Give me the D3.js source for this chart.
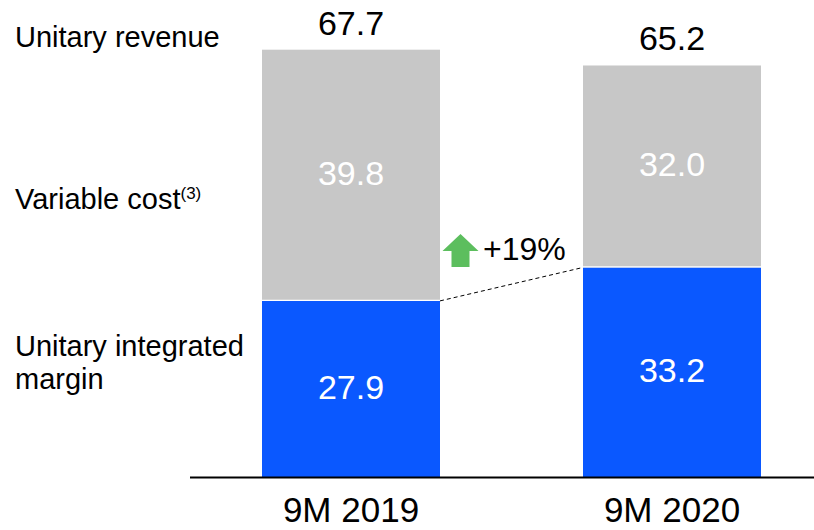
<!DOCTYPE html>
<html>
<head>
<meta charset="utf-8">
<script src="https://cdn.jsdelivr.net/npm/d3@7"></script>
<style>
  html, body { margin: 0; padding: 0; background: #fff; }
  svg { display: block; font-family: "Liberation Sans", Arial, sans-serif; }
</style>
</head>
<body>
<svg id="chart" width="814" height="530"></svg>
<script>
const categories = ["9M 2019", "9M 2020"];
const marginValues = [27.9, 33.2];
const costValues = [39.8, 32.0];
const revenueValues = [67.7, 65.2];
const seriesLabels = ["Unitary revenue", "Variable cost", "Unitary integrated", "margin"];
const growthLabel = "+19%";

const svg = d3.select("#chart");
const W = 814, H = 530;
const baseY = 477, topY = 49.7;

const x = d3.scaleBand().domain(categories).range([190.5, 832.5])
  .paddingInner(0.4455).paddingOuter(0.22275);
const y = d3.scaleLinear().domain([0, revenueValues[0]]).range([baseY, topY]);

const blue = "#0A58FF", grey = "#C7C7C7", green = "#5CBE5E";

const data = categories.map((c, i) => ({ c, m: marginValues[i], v: costValues[i], r: revenueValues[i] }));

// grey (variable cost) segments
svg.selectAll("rect.cost").data(data).enter().append("rect")
  .attr("class", "cost")
  .attr("x", d => x(d.c)).attr("width", x.bandwidth())
  .attr("y", d => y(d.r)).attr("height", d => y(d.m) - y(d.r))
  .attr("fill", grey);

// blue (margin) segments
svg.selectAll("rect.margin").data(data).enter().append("rect")
  .attr("class", "margin")
  .attr("x", d => x(d.c)).attr("width", x.bandwidth())
  .attr("y", d => y(d.m)).attr("height", d => y(0) - y(d.m))
  .attr("fill", blue);

// white separator
svg.selectAll("line.sep").data(data).enter().append("line")
  .attr("x1", d => x(d.c)).attr("x2", d => x(d.c) + x.bandwidth())
  .attr("y1", d => y(d.m) - 0.5).attr("y2", d => y(d.m) - 0.5)
  .attr("stroke", "#fff").attr("stroke-width", 1.2);

// baseline axis
svg.append("line").attr("x1", 190).attr("x2", W).attr("y1", baseY + 0.5).attr("y2", baseY + 0.5)
  .attr("stroke", "#000").attr("stroke-width", 2);

// dashed connector
svg.append("line")
  .attr("x1", x(categories[0]) + x.bandwidth()).attr("y1", y(marginValues[0]))
  .attr("x2", x(categories[1])).attr("y2", y(marginValues[1]))
  .attr("stroke", "#000").attr("stroke-width", 1).attr("stroke-dasharray", "4,3");

const nf = 34;
// totals
svg.selectAll("text.total").data(data).enter().append("text")
  .attr("x", d => x(d.c) + x.bandwidth() / 2).attr("y", d => y(d.r) - 15)
  .attr("text-anchor", "middle").attr("font-size", nf).attr("fill", "#000")
  .text(d => d.r.toFixed(1));

// cost labels
svg.selectAll("text.costl").data(data).enter().append("text")
  .attr("x", d => x(d.c) + x.bandwidth() / 2).attr("y", d => (y(d.r) + y(d.m)) / 2 + 10)
  .attr("text-anchor", "middle").attr("font-size", nf).attr("fill", "#fff")
  .text(d => d.v.toFixed(1));

// margin labels
svg.selectAll("text.marginl").data(data).enter().append("text")
  .attr("x", d => x(d.c) + x.bandwidth() / 2).attr("y", d => (y(d.m) + y(0)) / 2 + 10)
  .attr("text-anchor", "middle").attr("font-size", nf).attr("fill", "#fff")
  .text(d => d.m.toFixed(1));

// category labels
svg.selectAll("text.cat").data(categories).enter().append("text")
  .attr("x", d => x(d) + x.bandwidth() / 2).attr("y", 522)
  .attr("text-anchor", "middle").attr("font-size", 35).attr("fill", "#000")
  .text(d => d);

// left series labels
const lf = 29;
svg.append("text").attr("x", 15).attr("y", 47).attr("font-size", lf).text(seriesLabels[0]);
const vc = svg.append("text").attr("x", 15).attr("y", 209).attr("font-size", lf);
vc.append("tspan").text(seriesLabels[1]);
vc.append("tspan").attr("font-size", 17).attr("dy", -10).text("(3)");
svg.append("text").attr("x", 15).attr("y", 356).attr("font-size", lf).text(seriesLabels[2]);
svg.append("text").attr("x", 15).attr("y", 389).attr("font-size", lf).text(seriesLabels[3]);

// growth arrow
const ax = 460.5, ay = 234;
svg.append("path")
  .attr("d", `M${ax},${ay} L${ax + 18},${ay + 17} L${ax + 9},${ay + 17} L${ax + 9},${ay + 33} L${ax - 9},${ay + 33} L${ax - 9},${ay + 17} L${ax - 18},${ay + 17} Z`)
  .attr("fill", green);
svg.append("text").attr("x", 483).attr("y", 260).attr("font-size", 32).text(growthLabel);
</script>
</body>
</html>
